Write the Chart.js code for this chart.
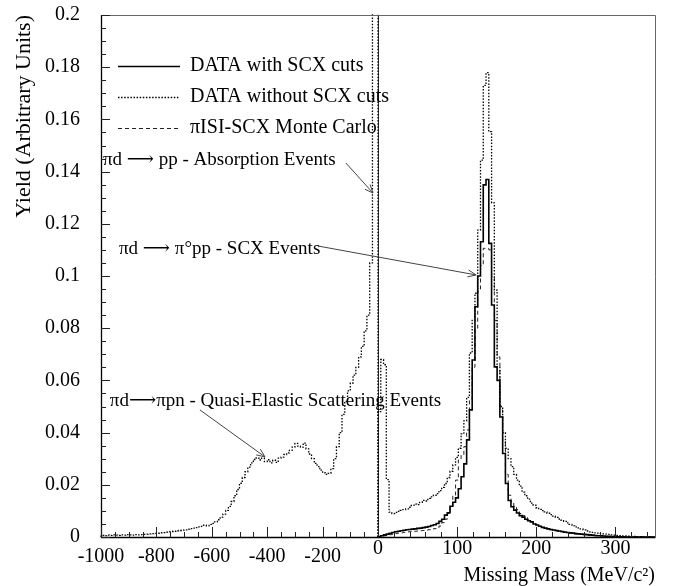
<!DOCTYPE html>
<html>
<head>
<meta charset="utf-8">
<script src="https://cdn.jsdelivr.net/npm/chart.js@4.4.1/dist/chart.umd.min.js"></script>
<style>
	body { margin: 0; background: #fff; }
</style>
</head>
<body>
<canvas id="missingMass" width="673" height="586"></canvas>
<script>
// axis ticks
const yieldTicks = [0, 0.02, 0.04, 0.06, 0.08, 0.1, 0.12, 0.14, 0.16, 0.18, 0.2];
const massTicksLeft = [-1000, -800, -600, -400, -200];
const massTicksRight = [0, 100, 200, 300];

// histogram binning: 100 bins on each side of zero
const leftStart = -1000, leftBin = 10;
const rightStart = 0, rightBin = 3.5;

const seriesNames = ['DATA with SCX cuts', 'DATA without SCX cuts', 'πISI-SCX Monte Carlo'];

// DATA without SCX cuts, -1000 .. 0
const noCutsLeft = [
	0.0006, 0.0005, 0.0007, 0.0006, 0.0008, 0.0007, 0.0006, 0.0008, 0.0007, 0.0009,
	0.0008, 0.0007, 0.0009, 0.0008, 0.0009, 0.0010, 0.0011, 0.0012, 0.0013, 0.0014,
	0.0014, 0.0016, 0.0017, 0.0019, 0.0020, 0.0021, 0.0022, 0.0024, 0.0025, 0.0026,
	0.0027, 0.0030, 0.0032, 0.0034, 0.0036, 0.0039, 0.0041, 0.0045, 0.0043, 0.0048,
	0.0052, 0.0058, 0.0066, 0.0076, 0.0088, 0.0102, 0.0117, 0.0136, 0.0158, 0.0182,
	0.0206, 0.0228, 0.0250, 0.0268, 0.0284, 0.0297, 0.0303, 0.0295, 0.0302, 0.0289,
	0.0296, 0.0284, 0.0294, 0.0286, 0.0302, 0.0306, 0.0316, 0.0322, 0.0332, 0.0344,
	0.0359, 0.0348, 0.0344, 0.0360, 0.0338, 0.0318, 0.0300, 0.0282, 0.0270, 0.0256,
	0.0246, 0.0240, 0.0244, 0.0262, 0.0300, 0.0346, 0.0400, 0.0470, 0.0520, 0.0560,
	0.0590, 0.0620, 0.0650, 0.0690, 0.0730, 0.0790, 0.0850, 0.1050, 0.2600, 0.2600
];

// DATA without SCX cuts, 0 .. 350
const noCutsRight = [
	0.0480, 0.0680, 0.0660, 0.0220, 0.0095, 0.0090, 0.0094, 0.0098, 0.0102, 0.0105,
	0.0108, 0.0114, 0.0121, 0.0126, 0.0124, 0.0133, 0.0140, 0.0138, 0.0148, 0.0154,
	0.0160, 0.0166, 0.0178, 0.0190, 0.0205, 0.0228, 0.0252, 0.0276, 0.0305, 0.0340,
	0.0395, 0.0445, 0.0535, 0.0705, 0.0830, 0.0934, 0.1176, 0.1444, 0.1730, 0.1779,
	0.1553, 0.1280, 0.0946, 0.0650, 0.0500, 0.0400, 0.0340, 0.0300, 0.0270, 0.0240,
	0.0218, 0.0195, 0.0172, 0.0158, 0.0145, 0.0130, 0.0122, 0.0112, 0.0106, 0.0101,
	0.0096, 0.0091, 0.0086, 0.0080, 0.0075, 0.0069, 0.0065, 0.0060, 0.0054, 0.0048,
	0.0043, 0.0039, 0.0035, 0.0031, 0.0027, 0.0023, 0.0020, 0.0018, 0.0016, 0.0015,
	0.0013, 0.0012, 0.0011, 0.0010, 0.0008, 0.0007, 0.0006, 0.0005, 0.0004, 0.0004,
	0.0003, 0.0002, 0.0002, 0.0001, 0.0001, 0, 0, 0, 0, 0
];

// DATA with SCX cuts, 0 .. 350
const scxCutsRight = [
	0.0002, 0.0005, 0.0008, 0.0011, 0.0014, 0.0017, 0.0020, 0.0022, 0.0024, 0.0026,
	0.0028, 0.0029, 0.0030, 0.0031, 0.0033, 0.0034, 0.0036, 0.0038, 0.0040, 0.0044,
	0.0047, 0.0052, 0.0060, 0.0068, 0.0084, 0.0093, 0.0118, 0.0133, 0.0150, 0.0185,
	0.0231, 0.0280, 0.0372, 0.0487, 0.0678, 0.0882, 0.1000, 0.1131, 0.1349, 0.1370,
	0.1125, 0.0889, 0.0652, 0.0600, 0.0460, 0.0320, 0.0205, 0.0140, 0.0116, 0.0103,
	0.0092, 0.0082, 0.0076, 0.0068, 0.0062, 0.0058, 0.0050, 0.0046, 0.0041, 0.0037,
	0.0034, 0.0031, 0.0029, 0.0027, 0.0025, 0.0023, 0.0021, 0.0019, 0.0017, 0.0016,
	0.0015, 0.0013, 0.0012, 0.0011, 0.0010, 0.0009, 0.0008, 0.0007, 0.0006, 0.0005,
	0.0005, 0.0004, 0.0003, 0.0003, 0.0002, 0.0002, 0.0001, 0.0001, 0.0001, 0,
	0, 0, 0, 0, 0, 0, 0, 0, 0, 0
];

// πISI-SCX Monte Carlo, 0 .. 350
const monteCarloRight = [
	0.0001, 0.0003, 0.0005, 0.0007, 0.0009, 0.0011, 0.0013, 0.0015, 0.0016, 0.0018,
	0.0019, 0.0020, 0.0021, 0.0022, 0.0023, 0.0024, 0.0025, 0.0026, 0.0028, 0.0030,
	0.0032, 0.0035, 0.0042, 0.0055, 0.0068, 0.0090, 0.0118, 0.0160, 0.0218, 0.0295,
	0.0315, 0.0346, 0.0410, 0.0525, 0.0650, 0.0800, 0.0950, 0.1040, 0.1106, 0.1106,
	0.1100, 0.0999, 0.0830, 0.0690, 0.0487, 0.0370, 0.0240, 0.0160, 0.0135, 0.0118,
	0.0105, 0.0090, 0.0082, 0.0074, 0.0066, 0.0058, 0.0052, 0.0046, 0.0041, 0.0037,
	0.0033, 0.0030, 0.0028, 0.0025, 0.0023, 0.0021, 0.0019, 0.0017, 0.0016, 0.0014,
	0.0013, 0.0012, 0.0011, 0.0010, 0.0009, 0.0008, 0.0007, 0.0006, 0.0005, 0.0005,
	0.0004, 0.0003, 0.0003, 0.0002, 0.0002, 0.0001, 0.0001, 0, 0, 0,
	0, 0, 0, 0, 0, 0, 0, 0, 0, 0
];

// labelled arrows, in (mass, yield) coordinates
const notes = [
	{ text: 'πd ⟶ pp - Absorption Events', at: [-993, 0.1444], from: [-116, 0.1433], to: [-18, 0.1318] },
	{ text: 'πd ⟶ π°pp - SCX Events', at: [-935, 0.1103], from: [-217, 0.1115], to: [124, 0.1004] },
	{ text: 'πd⟶πpn - Quasi-Elastic Scattering Events', at: [-968, 0.0521], from: [-643, 0.0487], to: [-408, 0.0307] }
];

const serif = 'Liberation Serif';

// one point per bin low edge, closing on the last upper edge, for stepped lines
function histPoints(start, width, values)
{
	const pts = [{ x: start, y: 0 }];
	values.forEach((v, i) => pts.push({ x: start + i * width, y: v }));
	pts.push({ x: start + values.length * width, y: 0 });
	return pts;
}

function formatYield(v)
{
	if (v === 0)
		return '0';
	return String(parseFloat(v.toFixed(2)));
}

function massPixel(chart, v)
{
	return v < 0 ? chart.scales.xL.getPixelForValue(v) : chart.scales.xR.getPixelForValue(v);
}

const histoLine = { stepped: true, pointRadius: 0, fill: false, tension: 0, clip: 1 };

// frame + inward tick marks like the old paw/root style
const framePlugin = {
	id: 'frame',
	afterDraw(chart) {
		const ctx = chart.ctx;
		const a = chart.chartArea;
		ctx.save();
		ctx.setLineDash([]);
		ctx.strokeStyle = '#666';
		ctx.lineWidth = 1;
		ctx.beginPath();
		ctx.moveTo(a.left, a.top + 0.5);
		ctx.lineTo(a.right + 0.5, a.top + 0.5);
		ctx.lineTo(a.right + 0.5, a.bottom);
		ctx.stroke();

		ctx.strokeStyle = '#000';
		ctx.lineWidth = 1.3;
		ctx.beginPath();
		ctx.moveTo(a.left + 0.5, a.top);
		ctx.lineTo(a.left + 0.5, a.bottom + 0.5);
		ctx.lineTo(a.right + 0.5, a.bottom + 0.5);
		ctx.stroke();

		ctx.lineWidth = 1;
		ctx.strokeStyle = '#222';
		ctx.beginPath();
		// y ticks every 0.005, long ones on the labels
		const y = chart.scales.y;
		for (let i = 0; i <= 40; i++) {
			const py = Math.round(y.getPixelForValue(i * 0.005)) + 0.5;
			const len = i % 4 === 0 ? 9 : 5;
			ctx.moveTo(a.left, py);
			ctx.lineTo(a.left + len, py);
		}
		// x ticks: every 50 below zero, every 20 above
		const xl = chart.scales.xL;
		for (let v = -1000; v <= 0; v += 50) {
			const px = Math.round(xl.getPixelForValue(v)) + 0.5;
			const len = v % 200 === 0 ? 10 : 5;
			ctx.moveTo(px, a.bottom);
			ctx.lineTo(px, a.bottom - len);
		}
		const xr = chart.scales.xR;
		for (let v = 0; v <= 340; v += 20) {
			const px = Math.round(xr.getPixelForValue(v)) + 0.5;
			const len = v % 100 === 0 ? 10 : 5;
			ctx.moveTo(px, a.bottom);
			ctx.lineTo(px, a.bottom - len);
		}
		ctx.stroke();
		ctx.restore();
	}
};

// legend drawn inside the plot, one row per series
const legendPlugin = {
	id: 'innerLegend',
	afterDraw(chart) {
		const ctx = chart.ctx;
		const a = chart.chartArea;
		ctx.save();
		ctx.font = '20px "' + serif + '"';
		ctx.fillStyle = '#000';
		ctx.textBaseline = 'middle';
		seriesNames.forEach((name, i) => {
			const ds = chart.data.datasets.find(d => d.label === name);
			const ly = a.top + 51 + i * 31;
			ctx.strokeStyle = ds.borderColor;
			ctx.lineWidth = ds.borderWidth;
			ctx.setLineDash(ds.borderDash || []);
			ctx.beginPath();
			ctx.moveTo(a.left + 17, ly + 0.5);
			ctx.lineTo(a.left + 79, ly + 0.5);
			ctx.stroke();
			ctx.fillText(name, a.left + 89, ly);
		});
		ctx.restore();
	}
};

// reaction labels with arrows
const notesPlugin = {
	id: 'notes',
	afterDraw(chart) {
		const ctx = chart.ctx;
		const y = chart.scales.y;
		ctx.save();
		ctx.font = '19px "' + serif + '", "DejaVu Serif"';
		ctx.fillStyle = '#000';
		ctx.textBaseline = 'middle';
		ctx.setLineDash([]);
		notes.forEach(n => {
			ctx.fillText(n.text, massPixel(chart, n.at[0]), y.getPixelForValue(n.at[1]));
			const x1 = massPixel(chart, n.from[0]), y1 = y.getPixelForValue(n.from[1]);
			const x2 = massPixel(chart, n.to[0]), y2 = y.getPixelForValue(n.to[1]);
			const ang = Math.atan2(y2 - y1, x2 - x1);
			ctx.strokeStyle = '#444';
			ctx.lineWidth = 1;
			ctx.beginPath();
			ctx.moveTo(x1, y1);
			ctx.lineTo(x2, y2);
			ctx.moveTo(x2 - 9 * Math.cos(ang - 0.4), y2 - 9 * Math.sin(ang - 0.4));
			ctx.lineTo(x2, y2);
			ctx.lineTo(x2 - 9 * Math.cos(ang + 0.4), y2 - 9 * Math.sin(ang + 0.4));
			ctx.stroke();
		});
		ctx.restore();
	}
};

const tickFont = { family: serif, size: 20 };
const dotted = { borderColor: '#000', borderWidth: 1.3, borderDash: [1.5, 1.6] };

new Chart(document.getElementById('missingMass'), {
	type: 'line',
	data: {
		datasets: [
			Object.assign({
				label: seriesNames[0], xAxisID: 'xR',
				data: histPoints(rightStart, rightBin, scxCutsRight),
				borderColor: '#000', borderWidth: 1.6
			}, histoLine),
			Object.assign({
				label: seriesNames[1], xAxisID: 'xL',
				data: histPoints(leftStart, leftBin, noCutsLeft)
			}, dotted, histoLine),
			Object.assign({
				label: seriesNames[1], xAxisID: 'xR',
				data: histPoints(rightStart, rightBin, noCutsRight)
			}, dotted, histoLine),
			Object.assign({
				label: seriesNames[2], xAxisID: 'xR',
				data: histPoints(rightStart, rightBin, monteCarloRight),
				borderColor: '#222', borderWidth: 1, borderDash: [4, 3]
			}, histoLine)
		]
	},
	options: {
		responsive: false,
		animation: false,
		devicePixelRatio: 1,
		events: [],
		layout: { padding: { top: 15, right: 18, left: 0, bottom: 0 } },
		plugins: {
			legend: { display: false },
			tooltip: { enabled: false }
		},
		scales: {
			xL: {
				type: 'linear', position: 'bottom', stack: 'mass', stackWeight: 1,
				min: -1000, max: 0,
				afterBuildTicks: s => { s.ticks = massTicksLeft.map(v => ({ value: v })); },
				afterFit: s => { s.height = 49; },
				grid: { display: false },
				border: { display: false },
				ticks: { font: tickFont, color: '#000', padding: 0, autoSkip: false, maxRotation: 0, callback: v => String(v) }
			},
			xR: {
				type: 'linear', position: 'bottom', stack: 'mass', stackWeight: 1,
				min: 0, max: 350,
				afterBuildTicks: s => { s.ticks = massTicksRight.map(v => ({ value: v })); },
				afterFit: s => { s.height = 49; },
				// only the line at zero is drawn, splitting the two ranges
				grid: {
					drawTicks: false,
					lineWidth: 1,
					color: c => (c.tick && c.tick.value === 0) ? '#333' : 'rgba(0,0,0,0)'
				},
				border: { display: false },
				ticks: { font: tickFont, color: '#000', padding: 0, autoSkip: false, maxRotation: 0, callback: v => String(v) },
				title: {
					display: true, text: 'Missing Mass (MeV/c²)', align: 'end', color: '#000',
					font: { family: serif, size: 20, lineHeight: 1 }, padding: 0
				}
			},
			y: {
				type: 'linear', position: 'left',
				min: 0, max: 0.2,
				afterBuildTicks: s => { s.ticks = yieldTicks.map(v => ({ value: v })); },
				// keep the label padding from pushing the plot down
				afterFit: s => { s.width = 101; s.paddingTop = 12; s.paddingBottom = 12; },
				grid: { display: false },
				border: { display: false },
				ticks: { font: tickFont, color: '#000', padding: 13, callback: v => formatYield(v) },
				title: {
					display: true, text: 'Yield (Arbitrary Units)', align: 'end', color: '#000',
					font: { family: serif, size: 22, lineHeight: 1.2 }, padding: { top: 11 }
				}
			}
		}
	},
	plugins: [framePlugin, legendPlugin, notesPlugin]
});
</script>
</body>
</html>
